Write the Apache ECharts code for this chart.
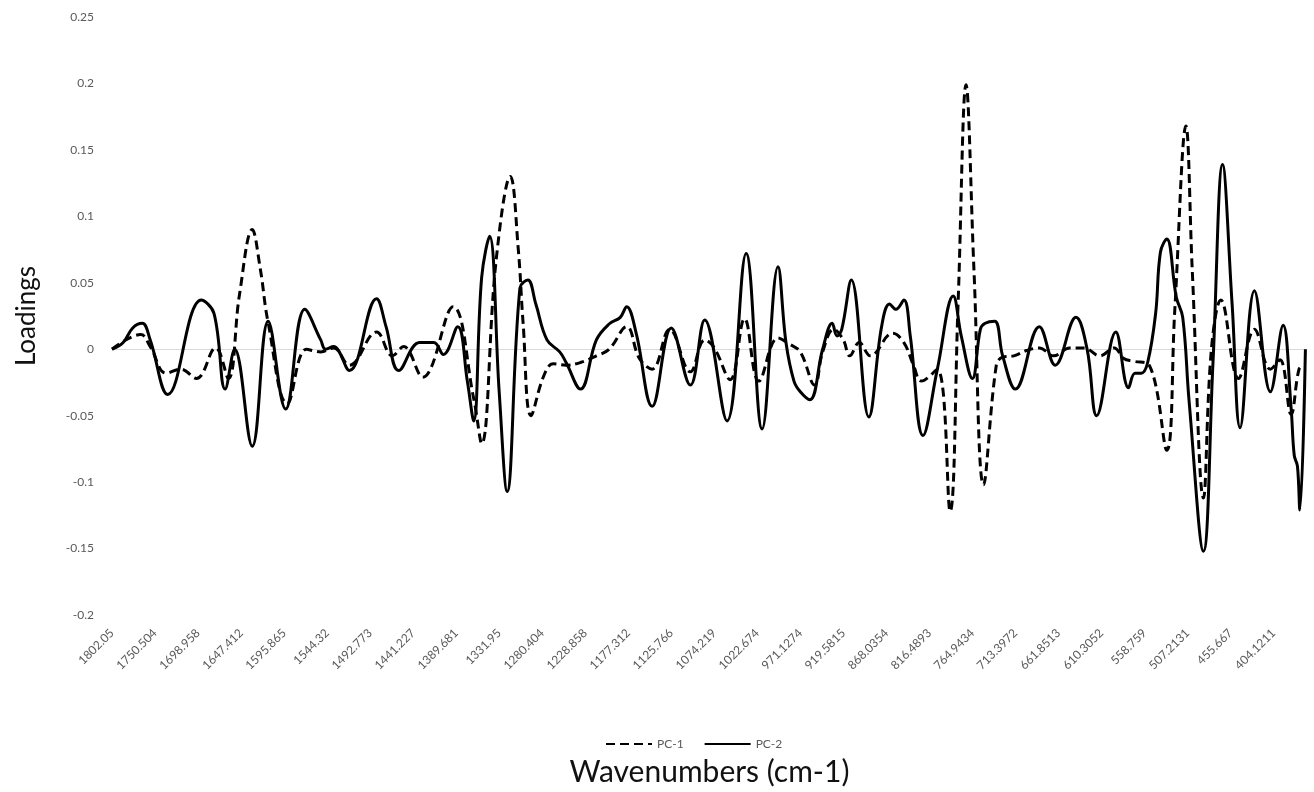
<!DOCTYPE html>
<html>
<head>
<meta charset="utf-8">
<script src="https://cdn.jsdelivr.net/npm/echarts@6/dist/echarts.min.js"></script>
<style>
html,body{margin:0;padding:0;background:#fff;}
#chart{width:1314px;height:792px;}
</style>
</head>
<body>
<div id="chart"></div>
<script>
// Tick labels of the wavenumber axis (one every 27 sample points)
const waveLabels = ['1802.05','1750.504','1698.958','1647.412','1595.865','1544.32','1492.773','1441.227','1389.681','1331.95','1280.404','1228.858','1177.312','1125.766','1074.219','1022.674','971.1274','919.5815','868.0354','816.4893','764.9434','713.3972','661.8513','610.3052','558.759','507.2131','455.667','404.1211'];
const pointsPerLabel = 27;
const lastIndex = 750;

// PC-1 loadings (sample index, value)
const pc1Index = [0,18,24,34,43,53,65,73,80,88,93,98,110,122,131,139,149,166,176,183,195,214,227,232,241,250,255,258,263,271,277,285,294,304,312,323,331,339,350,363,372,378,388,397,406,418,425,432,441,446,453,459,463,469,476,490,497,503,508,518,526,531,536,541,547,555,559,566,574,582,591,601,610,620,629,635,641,651,662,667,674,678,685,690,696,707,717,727,733,740,745,748];
const pc1Values = [0,0.011,0.002,-0.018,-0.015,-0.022,0.001,-0.022,0.041,0.090,0.061,0.020,-0.041,0,-0.002,0.001,-0.012,0.013,-0.005,0.002,-0.021,0.032,-0.037,-0.071,0.066,0.130,0.075,0.020,-0.050,-0.020,-0.011,-0.012,-0.010,-0.005,0,0.017,-0.007,-0.015,0.015,-0.017,0.007,0.001,-0.023,0.023,-0.024,0.0085,0.004,-0.002,-0.027,-0.002,0.015,0.007,-0.005,0.005,-0.005,0.012,0.005,-0.012,-0.024,-0.015,-0.122,0.034,0.199,0.059,-0.102,-0.012,-0.006,-0.005,-0.001,0.001,-0.005,0.001,0.001,-0.005,0.001,-0.007,-0.009,-0.012,-0.076,0.029,0.168,0.059,-0.112,0,0.037,-0.022,0.015,-0.015,-0.008,-0.049,-0.015,-0.012];

// PC-2 loadings (sample index, value)
const pc2Index = [0,7,13,19,24,35,56,64,71,77,88,98,109,121,131,134,139,149,166,172,180,193,202,208,217,223,227,232,237,243,248,256,261,266,273,281,285,294,304,312,319,323,329,339,351,363,372,386,398,408,418,423,428,432,438,446,452,455,458,464,475,483,488,492,497,501,509,518,528,533,540,545,548,554,559,567,582,592,605,612,618,630,638,642,646,650,655,658,662,668,672,676,685,691,697,703,708,717,727,735,740,742,744,745.5,749];
const pc2Values = [0,0.005,0.016,0.0195,0.007,-0.034,0.037,0.027,-0.030,0,-0.073,0.021,-0.045,0.030,0.007,0,0.002,-0.016,0.038,0.017,-0.016,0.005,0.005,-0.004,0.017,-0.024,-0.054,0.054,0.085,-0.032,-0.107,0.046,0.052,0.034,0.007,-0.002,-0.010,-0.030,0.007,0.019,0.024,0.032,0.012,-0.043,0.016,-0.027,0.022,-0.054,0.072,-0.060,0.062,0.005,-0.024,-0.032,-0.038,0,0.0195,0.010,0.015,0.052,-0.051,0.017,0.034,0.030,0.037,0.010,-0.065,-0.015,0.040,0.010,-0.022,0.015,0.0195,0.021,-0.005,-0.030,0.017,-0.012,0.024,0,-0.050,0.013,-0.029,-0.018,-0.018,-0.010,0.027,0.073,0.083,0.039,0.024,-0.039,-0.152,-0.010,0.139,0.034,-0.059,0.044,-0.032,0.018,-0.044,-0.080,-0.088,-0.121,0];

const yMin = -0.2, yMax = 0.25, yStep = 0.05;

const font = 'Lato, "Liberation Sans", sans-serif';
const chart = echarts.init(document.getElementById('chart'), null, {renderer: 'canvas'});
chart.setOption({
  animation: false,
  backgroundColor: '#ffffff',
  textStyle: {fontFamily: font},
  grid: {left: 112, right: 7, top: 17, bottom: 161, containLabel: false},
  legend: {
    data: ['PC-1', 'PC-2'],
    top: 733, left: 600,
    itemWidth: 46, itemHeight: 12, itemGap: 20,
    itemStyle: {opacity: 0},
    textStyle: {fontSize: 12, color: '#595959', fontFamily: font}
  },
  xAxis: {
    type: 'value', min: 0, max: lastIndex, interval: pointsPerLabel,
    axisLine: {show: false}, axisTick: {show: false}, splitLine: {show: false},
    axisLabel: {
      rotate: 45, color: '#595959', fontSize: 12, margin: 16, showMaxLabel: false,
      formatter: function (v) {
        const i = Math.round(v / pointsPerLabel);
        return (Math.abs(v - i * pointsPerLabel) < 1e-6 && i < waveLabels.length) ? waveLabels[i] : '';
      }
    },
    name: 'Wavenumbers (cm-1)', nameLocation: 'middle', nameGap: 142,
    nameTextStyle: {fontSize: 30, color: '#111', fontFamily: font}
  },
  yAxis: {
    type: 'value', min: yMin, max: yMax, interval: yStep,
    axisLine: {show: false}, axisTick: {show: false}, splitLine: {show: false},
    axisLabel: {color: '#595959', fontSize: 12, margin: 18},
    name: 'Loadings', nameLocation: 'middle', nameGap: 72,
    nameTextStyle: {fontSize: 26, color: '#111', fontFamily: font}
  },
  series: [
    {
      name: 'PC-1', type: 'line', symbol: 'none', smooth: 0.4,
      data: pc1Index.map((x, i) => [x, pc1Values[i]]),
      lineStyle: {color: '#000', width: 3, type: [9, 5]},
      itemStyle: {color: '#000'},
      z: 3,
      markLine: {
        silent: true, symbol: 'none', label: {show: false},
        lineStyle: {color: '#d9d9d9', width: 1, type: 'solid'},
        data: [{yAxis: 0}], z: 1
      }
    },
    {
      name: 'PC-2', type: 'line', symbol: 'none', smooth: 0.4,
      data: pc2Index.map((x, i) => [x, pc2Values[i]]),
      lineStyle: {color: '#000', width: 3, type: 'solid'},
      itemStyle: {color: '#000'},
      z: 4
    }
  ]
});
</script>
</body>
</html>
